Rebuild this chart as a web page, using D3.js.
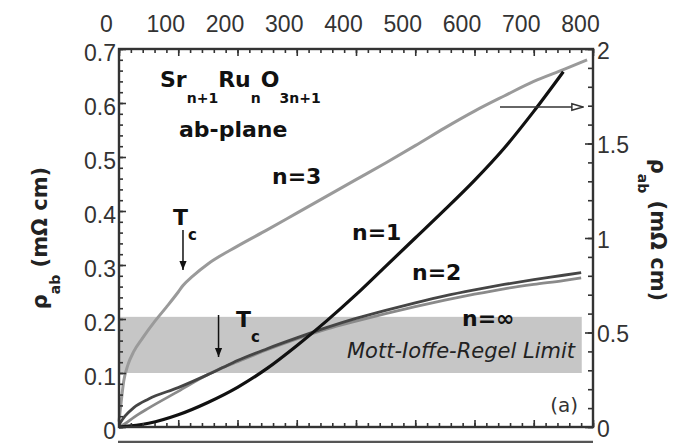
<!DOCTYPE html>
<html>
<head>
<meta charset="utf-8">
<script src="https://cdn.jsdelivr.net/npm/d3@7"></script>
<style>
  html, body { margin: 0; padding: 0; background: #fff; }
  svg { display: block; font-family: "Liberation Sans", Arial, sans-serif; }
  .lbl { font-family: "DejaVu Sans", sans-serif; }
</style>
</head>
<body>
<svg id="chart" width="686" height="443"></svg>
<script>
// Temperature ticks (K) shown along the top edge
const tempTicks = [0, 100, 200, 300, 400, 500, 600, 700, 800];
const leftTicks = [0, 0.1, 0.2, 0.3, 0.4, 0.5, 0.6, 0.7];
const rightTicks = [0, 0.5, 1, 1.5, 2];

// n = 3 (Sr4Ru3O10), left axis, mΩ cm
const n3T   = [0, 4, 8, 15, 25, 40, 60, 80, 100, 108, 125, 150, 200, 250, 300, 350, 400, 450, 500, 550, 600, 650, 700, 750, 790];
const n3Rho = [0.01, 0.05, 0.085, 0.115, 0.14, 0.165, 0.195, 0.222, 0.25, 0.262, 0.28, 0.302, 0.335, 0.365, 0.396, 0.427, 0.458, 0.489, 0.521, 0.554, 0.585, 0.613, 0.64, 0.662, 0.68];

// n = 2 (Sr3Ru2O7), left axis
const n2T   = [0, 10, 25, 50, 100, 150, 175, 200, 250, 300, 350, 400, 450, 500, 550, 600, 650, 700, 750, 780];
const n2Rho = [0.004, 0.02, 0.036, 0.052, 0.073, 0.097, 0.11, 0.123, 0.145, 0.165, 0.184, 0.201, 0.216, 0.23, 0.243, 0.254, 0.264, 0.273, 0.281, 0.286];

// n = ∞ (SrRuO3), left axis
const nInfT   = [0, 10, 25, 50, 100, 150, 175, 200, 250, 300, 350, 400, 450, 500, 550, 600, 650, 700, 750, 780];
const nInfRho = [0.0, 0.006, 0.018, 0.035, 0.066, 0.097, 0.11, 0.121, 0.143, 0.163, 0.181, 0.196, 0.21, 0.223, 0.235, 0.246, 0.256, 0.264, 0.271, 0.276];

// n = 1 (Sr2RuO4), right axis
const n1T   = [0, 50, 100, 150, 200, 250, 300, 350, 400, 450, 500, 550, 600, 650, 700, 750];
const n1Rho = [0, 0.02, 0.065, 0.13, 0.21, 0.31, 0.43, 0.56, 0.70, 0.85, 1.0, 1.15, 1.305, 1.475, 1.67, 1.88];

// Mott-Ioffe-Regel band (left axis units) and its temperature extent
const mirLimit = [0.1, 0.204];
const mirTRange = [0, 781];

// Transition temperatures marked by arrows
const tcN3 = 108, tcInf = 168;

const X0 = 119, X1 = 593, Y0 = 49, Y1 = 427;
const svg = d3.select("#chart");

const x = d3.scaleLinear().domain([0, 800]).range([X0, X1]);
const yL = d3.scaleLinear().domain([0, 0.7]).range([Y1, Y0]);
const yR = d3.scaleLinear().domain([0, 2]).range([Y1, Y0]);

const defs = svg.append("defs");
defs.append("marker").attr("id", "headFilled")
  .attr("viewBox", "0 0 10 10").attr("refX", 10).attr("refY", 5)
  .attr("markerWidth", 9).attr("markerHeight", 9).attr("markerUnits", "userSpaceOnUse")
  .attr("orient", "auto")
  .append("path").attr("d", "M0,1 L10,5 L0,9 Z").attr("fill", "#111");
defs.append("marker").attr("id", "headOpen")
  .attr("viewBox", "0 0 14 10").attr("refX", 13).attr("refY", 5)
  .attr("markerWidth", 13).attr("markerHeight", 10).attr("markerUnits", "userSpaceOnUse")
  .attr("orient", "auto")
  .append("path").attr("d", "M1,1.5 L13,5 L1,8.5 Z").attr("fill", "#fff").attr("stroke", "#333").attr("stroke-width", 1.6);

// Gray band: Mott-Ioffe-Regel limit
svg.append("rect")
  .attr("x", x(mirTRange[0])).attr("width", x(mirTRange[1]) - x(mirTRange[0]))
  .attr("y", yL(mirLimit[1])).attr("height", yL(mirLimit[0]) - yL(mirLimit[1]))
  .attr("fill", "#c6c6c6");

// Curves
const lineL = d3.line().x(d => x(d[0])).y(d => yL(d[1])).curve(d3.curveMonotoneX);
const lineR = d3.line().x(d => x(d[0])).y(d => yR(d[1])).curve(d3.curveMonotoneX);
const zip = (a, b) => a.map((t, i) => [t, b[i]]);

svg.append("path").attr("d", lineL(zip(n3T, n3Rho)))
  .attr("fill", "none").attr("stroke", "#9a9a9a").attr("stroke-width", 3);
svg.append("path").attr("d", lineL(zip(nInfT, nInfRho)))
  .attr("fill", "none").attr("stroke", "#8a8a8a").attr("stroke-width", 2.8);
svg.append("path").attr("d", lineL(zip(n2T, n2Rho)))
  .attr("fill", "none").attr("stroke", "#454545").attr("stroke-width", 2.8);
svg.append("path").attr("d", lineR(zip(n1T, n1Rho)))
  .attr("fill", "none").attr("stroke", "#111").attr("stroke-width", 3.2);

// Axes
const axisColor = "#333";
function styleAxis(g) {
  g.select(".domain").remove();
  g.selectAll(".tick line").attr("stroke", axisColor).attr("stroke-width", 1.6);
  g.selectAll("text").attr("fill", "#333").style("font-size", "23px");
}
const minorT = d3.range(0, 801, 20);
const minorL = d3.range(0, 0.7001, 0.02);
const minorR = d3.range(0, 2.0001, 0.1);

// top axis (labels shown)
svg.append("g").attr("transform", `translate(0,${Y0})`)
  .call(d3.axisTop(x).tickValues(minorT).tickSize(-4).tickFormat(""))
  .call(styleAxis);
svg.append("g").attr("transform", `translate(0,${Y0})`)
  .call(d3.axisTop(x).tickValues(tempTicks).tickSize(-7).tickPadding(17).tickFormat(d3.format("d")))
  .call(styleAxis)
  .call(g => g.selectAll("text").attr("dx", -13));
// bottom axis (ticks only)
svg.append("g").attr("transform", `translate(0,${Y1})`)
  .call(d3.axisBottom(x).tickValues(minorT).tickSize(-4).tickFormat(""))
  .call(styleAxis);
svg.append("g").attr("transform", `translate(0,${Y1})`)
  .call(d3.axisBottom(x).tickValues(tempTicks).tickSize(-7).tickFormat(""))
  .call(styleAxis);
// left axis
svg.append("g").attr("transform", `translate(${X0},0)`)
  .call(d3.axisLeft(yL).tickValues(minorL).tickSize(-4).tickFormat(""))
  .call(styleAxis);
svg.append("g").attr("transform", `translate(${X0},0)`)
  .call(d3.axisLeft(yL).tickValues(leftTicks).tickSize(-7).tickPadding(3)
    .tickFormat(d => d === 0 ? "0" : d3.format(".1f")(d)))
  .call(styleAxis)
  .call(g => g.selectAll("text").attr("dy", "0.5em"));
// right axis
svg.append("g").attr("transform", `translate(${X1},0)`)
  .call(d3.axisRight(yR).tickValues(minorR).tickSize(-5).tickFormat(""))
  .call(styleAxis);
svg.append("g").attr("transform", `translate(${X1},0)`)
  .call(d3.axisRight(yR).tickValues(rightTicks).tickSize(-8).tickPadding(4)
    .tickFormat(d => String(d)))
  .call(styleAxis)
  .call(g => g.selectAll("text").attr("dy", "0.4em"));

// Frame
svg.append("rect").attr("x", X0).attr("y", Y0).attr("width", X1 - X0).attr("height", Y1 - Y0)
  .attr("fill", "none").attr("stroke", axisColor).attr("stroke-width", 2.4);
// Top edge of the panel below
svg.append("line").attr("x1", X0 - 1).attr("x2", X1).attr("y1", 442).attr("y2", 442)
  .attr("stroke", "#555").attr("stroke-width", 2.4);

// Axis titles
function rhoTitle(g) {
  g.append("tspan").text("ρ");
  g.append("tspan").text("ab").attr("dy", 13).style("font-size", "14px");
  g.append("tspan").text(" (mΩ cm)").attr("dy", -13);
}
svg.append("text").attr("class", "lbl").attr("transform", "translate(47,238) rotate(-90)")
  .attr("text-anchor", "middle").attr("font-weight", "bold").style("font-size", "21px")
  .attr("fill", "#222").call(rhoTitle);
svg.append("text").attr("class", "lbl").attr("transform", "translate(651,230) rotate(90)")
  .attr("text-anchor", "middle").attr("font-weight", "bold").style("font-size", "21px")
  .attr("fill", "#222").call(rhoTitle);

// Annotations
const bold = (t, px, py) => svg.append("text").attr("class", "lbl").attr("x", px).attr("y", py)
  .attr("font-weight", "bold").style("font-size", "22px").attr("fill", "#111").text(t);

const formula = svg.append("text").attr("class", "lbl").attr("x", 160).attr("y", 87)
  .attr("font-weight", "bold").style("font-size", "22px").attr("fill", "#111");
formula.append("tspan").text("Sr");
formula.append("tspan").text("n+1").attr("dy", 16).style("font-size", "14px");
formula.append("tspan").text("Ru").attr("dy", -16);
formula.append("tspan").text("n").attr("dy", 16).style("font-size", "14px");
formula.append("tspan").text("O").attr("dy", -16);
formula.append("tspan").text("3n+1").attr("dy", 16).style("font-size", "14px");

bold("ab-plane", 179, 137);
bold("n=3", 272, 184);
bold("n=1", 352, 240);
bold("n=2", 412, 280);
bold("n=∞", 462, 326);

// Tc markers
function tcLabel(px, py) {
  const t = svg.append("text").attr("class", "lbl").attr("x", px).attr("y", py)
    .attr("font-weight", "bold").style("font-size", "22px").attr("fill", "#111");
  t.append("tspan").text("T");
  t.append("tspan").text("c").attr("dy", 15).style("font-size", "15px");
}
tcLabel(173, 225);
tcLabel(236, 327);
svg.append("line").attr("x1", x(tcN3)).attr("x2", x(tcN3)).attr("y1", 230).attr("y2", 270)
  .attr("stroke", "#111").attr("stroke-width", 1.5).attr("marker-end", "url(#headFilled)");
svg.append("line").attr("x1", x(tcInf)).attr("x2", x(tcInf)).attr("y1", 315).attr("y2", 357)
  .attr("stroke", "#111").attr("stroke-width", 1.5).attr("marker-end", "url(#headFilled)");

// Arrow pointing to the right-hand axis for n=1
svg.append("line").attr("x1", 500).attr("x2", 583).attr("y1", yR(1.693)).attr("y2", yR(1.693))
  .attr("stroke", "#333").attr("stroke-width", 1.6).attr("marker-end", "url(#headOpen)");

svg.append("text").attr("class", "lbl").attr("x", 575).attr("y", 358).attr("text-anchor", "end")
  .attr("font-style", "italic").style("font-size", "21px").attr("fill", "#222")
  .text("Mott-Ioffe-Regel Limit");
svg.append("text").attr("class", "lbl").attr("x", 578).attr("y", 412).attr("text-anchor", "end")
  .style("font-size", "20px").attr("fill", "#333").text("(a)");
</script>
</body>
</html>
